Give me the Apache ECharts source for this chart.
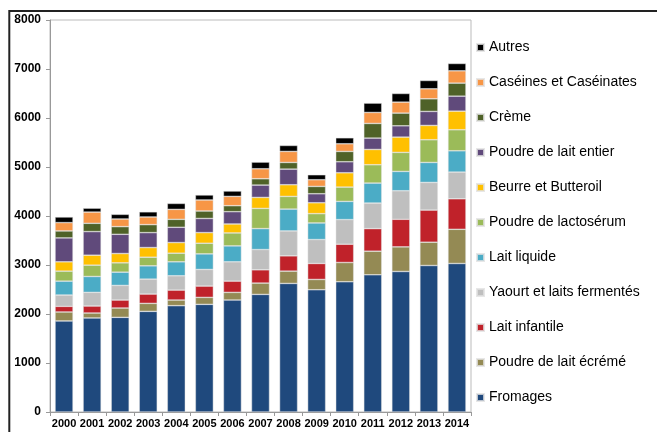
<!DOCTYPE html>
<html>
<head>
<meta charset="utf-8">
<script src="https://cdn.jsdelivr.net/npm/echarts@6/dist/echarts.min.js"></script>
<style>html,body{margin:0;padding:0;background:#fff;}#c{width:657px;height:432px;}</style>
</head>
<body>
<div id="c"></div>
<script>
const years = ['2000','2001','2002','2003','2004','2005','2006','2007','2008','2009','2010','2011','2012','2013','2014'];
const yTicks = [0, 1000, 2000, 3000, 4000, 5000, 6000, 7000, 8000];

const fromages      = [1858, 1919, 1932, 2054, 2170, 2197, 2285, 2400, 2624, 2495, 2658, 2800, 2868, 2990, 3031];
const poudreEcreme  = [183, 101, 190, 163, 115, 142, 156, 231, 251, 210, 393, 482, 502, 475, 698];
const laitInfantile = [115, 143, 163, 190, 203, 231, 230, 271, 312, 326, 373, 461, 563, 656, 623];
const yaourt        = [231, 278, 298, 305, 292, 339, 394, 413, 508, 488, 502, 521, 582, 564, 544];
const laitLiquide   = [284, 325, 271, 271, 285, 318, 325, 428, 446, 339, 372, 408, 395, 408, 435];
const lactoserum    = [204, 231, 190, 176, 176, 217, 264, 412, 259, 190, 292, 374, 388, 463, 429];
const beurre        = [190, 203, 190, 197, 217, 217, 183, 224, 238, 222, 292, 312, 312, 292, 380];
const poudreEntier  = [488, 482, 393, 305, 312, 289, 251, 252, 319, 184, 225, 232, 231, 286, 306];
const creme         = [142, 169, 156, 163, 162, 152, 122, 129, 136, 150, 211, 299, 259, 258, 266];
const caseines      = [170, 229, 156, 156, 203, 225, 190, 204, 225, 136, 156, 224, 224, 204, 251];
const autres        = [115, 80, 95, 105, 122, 102, 110, 136, 122, 102, 122, 191, 177, 170, 150];

const seriesNames = ['Fromages','Poudre de lait écrémé','Lait infantile','Yaourt et laits fermentés','Lait liquide','Poudre de lactosérum','Beurre et Butteroil','Poudre de lait entier','Crème','Caséines et Caséinates','Autres'];
const seriesData = [fromages, poudreEcreme, laitInfantile, yaourt, laitLiquide, lactoserum, beurre, poudreEntier, creme, caseines, autres];
const colors = ['#1f497d','#948a54','#c0222a','#bfbfbf','#4bacc6','#9bbb59','#ffc000','#604a7b','#4f6228','#f79646','#000000'];

const chart = echarts.init(document.getElementById('c'), null, {renderer: 'canvas'});
const font = 'Liberation Sans, Arial, sans-serif';

chart.setOption({
  animation: false,
  backgroundColor: '#fff',
  color: colors,
  graphic: [{
    type: 'rect',
    shape: {x: 9.3, y: 11, width: 800, height: 800},
    style: {fill: 'none', stroke: '#222', lineWidth: 2},
    silent: true, z: 100
  }],
  grid: {left: 50, top: 20, right: 186, bottom: 20, show: true, borderColor: '#bbb', borderWidth: 1, backgroundColor: 'transparent'},
  legend: {
    orient: 'vertical',
    left: 471,
    top: 34.5,
    itemWidth: 7,
    itemHeight: 7,
    itemGap: 19,
    icon: 'rect',
    data: seriesNames.slice().reverse(),
    textStyle: {fontFamily: font, fontSize: 14, color: '#000', lineHeight: 16, padding: [0,0,0,0]}
  },
  xAxis: {
    type: 'category',
    data: years,
    axisLine: {lineStyle: {color: '#999', width: 1}},
    axisTick: {show: true, length: 4, lineStyle: {color: '#999'}},
    axisLabel: {fontFamily: font, fontSize: 11, fontWeight: 'bold', color: '#000', margin: 6, interval: 0},
    splitLine: {show: false}
  },
  yAxis: {
    type: 'value',
    min: yTicks[0],
    max: yTicks[yTicks.length - 1],
    interval: 1000,
    axisLine: {show: true, lineStyle: {color: '#999', width: 1}},
    axisTick: {show: true, length: 4, lineStyle: {color: '#999'}},
    axisLabel: {fontFamily: font, fontSize: 12, fontWeight: 'bold', color: '#000', margin: 9, formatter: (v) => String(v)},
    splitLine: {show: false}
  },
  series: seriesNames.map((name, i) => ({
    name: name,
    type: 'bar',
    stack: 'total',
    barWidth: 18,
    data: seriesData[i],
    itemStyle: {color: colors[i], borderColor: 'rgba(225,225,225,0.8)', borderWidth: 0.6}
  }))
});
</script>
</body>
</html>
